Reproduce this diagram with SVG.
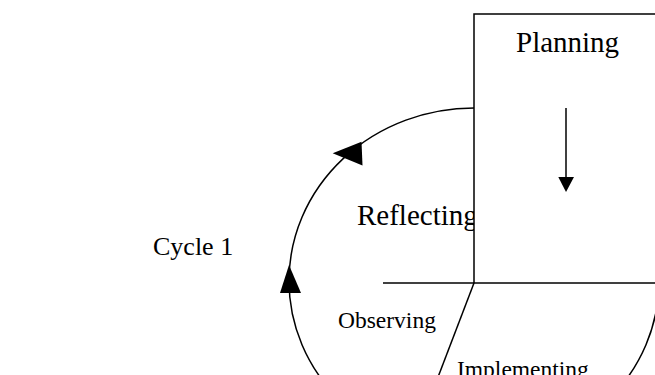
<svg xmlns="http://www.w3.org/2000/svg" width="655" height="375" viewBox="0 0 655 375">
<style>
.ln{stroke:#000;stroke-width:1.5;fill:none}
.t{font-family:"Liberation Serif","Times New Roman",serif;fill:#000}
</style>
<rect width="655" height="375" fill="#fff"/>
<g id="cycle-label"><text class="t" x="153" y="255" font-size="26">Cycle 1</text></g>
<g id="reflecting"><text class="t" x="357" y="225" font-size="29">Reflecting</text></g>
<g id="connectors">
<ellipse class="ln" cx="474" cy="281" rx="185" ry="173"/>
<polygon points="332.7,153.3 361.5,141.7 362.5,165.5" fill="#000"/>
<polygon points="289,265 280,293 301,293" fill="#000"/>
</g>
<g id="planning">
<rect x="474" y="14" width="200" height="269" fill="#fff" stroke="#000" stroke-width="1.5"/>
<text class="t" x="516" y="52" font-size="29">Planning</text>
<line class="ln" x1="566" y1="108" x2="566" y2="180"/>
<polygon points="558.3,177 574,177 566,192" fill="#000"/>
</g>
<g id="dividers">
<line class="ln" x1="383" y1="283" x2="474" y2="283"/>
<line class="ln" x1="474" y1="283" x2="435" y2="385"/>
</g>
<g id="observing"><text class="t" x="338" y="328" font-size="23.5">Observing</text></g>
<g id="implementing"><text class="t" x="457" y="377" font-size="23.5">Implementing</text></g>
</svg>
